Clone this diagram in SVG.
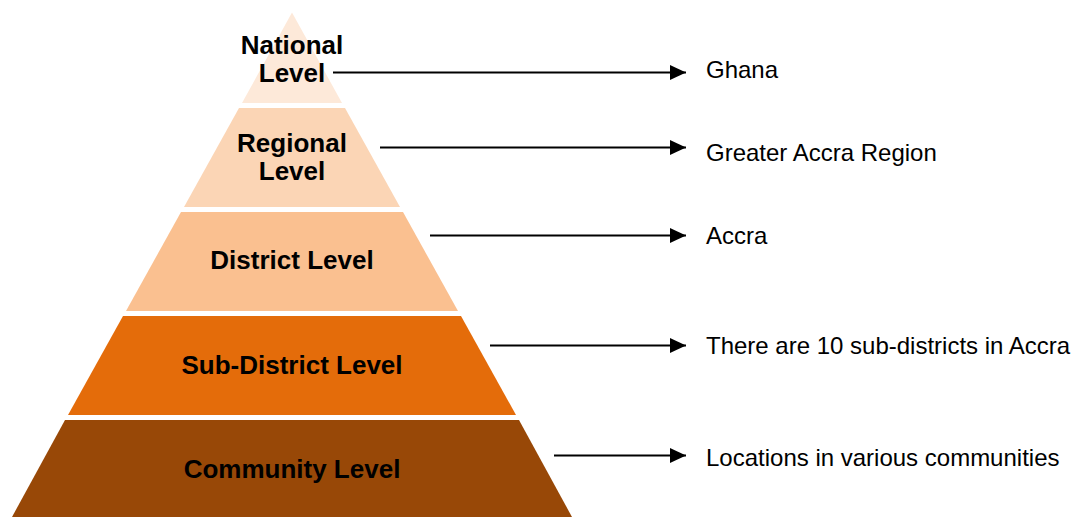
<svg xmlns="http://www.w3.org/2000/svg" width="1073" height="517" viewBox="0 0 1073 517">
  <defs>
    <style>
      .tier-label { font-family: "Liberation Sans", Arial, sans-serif; font-weight: bold; font-size: 26px; fill: #000; text-anchor: middle; }
      .note { font-family: "Liberation Sans", Arial, sans-serif; font-size: 24px; fill: #000; }
      .link { stroke: #000; stroke-width: 2; fill: none; }
    </style>
    <marker id="head" markerUnits="userSpaceOnUse" markerWidth="16" markerHeight="16" refX="16" refY="7.5" orient="auto">
      <path d="M0,0 L16,7.5 L0,15 Z" fill="#000"/>
    </marker>
  </defs>

  <rect width="1073" height="517" fill="#fff"/>

  <!-- pyramid tiers: apex (292,12.5), sides widen 0.555 px per px of height -->
  <g id="national">
    <polygon points="292,12.5 242,103 342,103" fill="#FDE9D9"/>
    <text class="tier-label" x="292" y="54">National</text>
    <text class="tier-label" x="292" y="81.7">Level</text>
  </g>
  <g id="regional">
    <polygon points="239,108 345,108 400,207 184,207" fill="#FBD5B5"/>
    <text class="tier-label" x="292" y="152.3">Regional</text>
    <text class="tier-label" x="292" y="180">Level</text>
  </g>
  <g id="district">
    <polygon points="181,212 403,212 458,311 126,311" fill="#FAC090"/>
    <text class="tier-label" x="292" y="269">District Level</text>
  </g>
  <g id="sub-district">
    <polygon points="123,316 461,316 516,415 68,415" fill="#E46C0A"/>
    <text class="tier-label" x="292" y="373.5">Sub-District Level</text>
  </g>
  <g id="community">
    <polygon points="65,420 519,420 572,517 12,517" fill="#984807"/>
    <text class="tier-label" x="292" y="477.7">Community Level</text>
  </g>

  <!-- connectors from each tier to its description -->
  <g id="connectors">
    <line class="link" x1="333" y1="72.5" x2="686" y2="72.5" marker-end="url(#head)"/>
    <line class="link" x1="380" y1="147.5" x2="686" y2="147.5" marker-end="url(#head)"/>
    <line class="link" x1="430" y1="235.5" x2="686" y2="235.5" marker-end="url(#head)"/>
    <line class="link" x1="490" y1="345.5" x2="686" y2="345.5" marker-end="url(#head)"/>
    <line class="link" x1="554" y1="455.5" x2="686" y2="455.5" marker-end="url(#head)"/>
  </g>

  <g id="descriptions">
    <text class="note" x="706" y="78">Ghana</text>
    <text class="note" x="706" y="160.5">Greater Accra Region</text>
    <text class="note" x="706" y="244">Accra</text>
    <text class="note" x="706" y="354">There are 10 sub-districts in Accra</text>
    <text class="note" x="706" y="466">Locations in various communities</text>
  </g>
</svg>
